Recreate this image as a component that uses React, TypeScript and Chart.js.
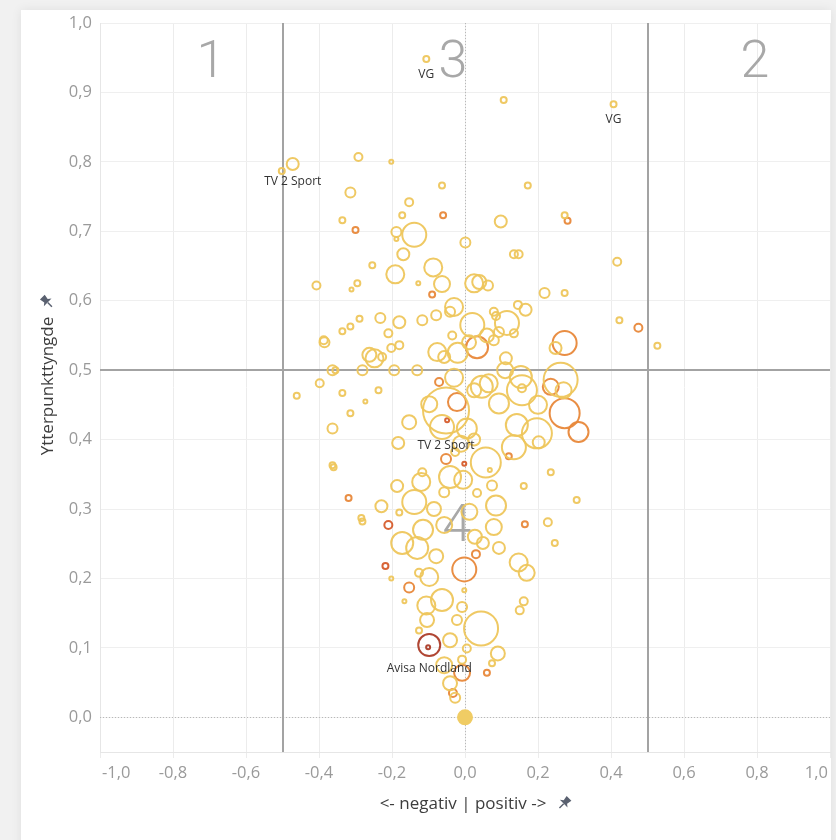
import React, { useEffect, useRef } from "react";
import { Chart, registerables } from "chart.js";

Chart.register(...registerables);

const xTicks = [-1, -0.8, -0.6, -0.4, -0.2, 0, 0.2, 0.4, 0.6, 0.8, 1];
const yTicks = [0, 0.1, 0.2, 0.3, 0.4, 0.5, 0.6, 0.7, 0.8, 0.9, 1];

const xTitle = "<- negativ | positiv ->";
const yTitle = "Ytterpunkttyngde";

// sentiment (x), extremity weight (y), reach (bubble area), tone group
const pointX = [
  -0.502, -0.472, -0.292, -0.202, -0.314, -0.153, -0.172, -0.336, -0.3, -0.188,
  -0.188, -0.139, -0.169, -0.254, -0.191, -0.407, -0.295, -0.311, -0.128, -0.106,
  0.106, 0.407, -0.063, 0.172, -0.06, 0.098, 0.273, 0.281, 0.001, 0.134,
  0.147, 0.417, -0.087, -0.063, -0.09, 0.025, 0.039, 0.063, 0.218, 0.273,
  0.423, 0.475, 0.527, -0.03, -0.079, -0.041, -0.117, -0.18, -0.232, -0.289,
  -0.314, -0.336, -0.21, -0.035, -0.387, 0.145, 0.166, 0.079, 0.085, 0.115,
  0.093, 0.134, 0.273, 0.248, 0.033, 0.011, 0.112, 0.079, 0.262, 0.235,
  0.27, 0.156, 0.153, 0.156, 0.046, 0.093, 0.273, 0.311, 0.142, 0.197,
  0.202, 0.134, 0.12, -0.002, 0.235, 0.161, 0.074, 0.033, 0.068, 0.057,
  0.306, 0.085, 0.164, 0.227, 0.079, 0.246, 0.147, 0.169, 0.161, 0.15,
  0.044, 0.09, 0.074, 0.06, -0.385, -0.363, -0.355, -0.281, -0.248, -0.262,
  -0.227, -0.194, -0.131, -0.202, -0.18, -0.398, -0.461, -0.336, -0.273, -0.237,
  -0.314, -0.363, -0.153, -0.183, -0.363, -0.36, -0.186, -0.117, -0.139, -0.12,
  -0.229, -0.319, -0.284, -0.281, -0.21, -0.18, -0.071, -0.052, -0.022, -0.063,
  -0.052, -0.049, -0.218, -0.202, -0.153, -0.166, -0.172, -0.131, -0.126, -0.098,
  -0.079, -0.106, -0.063, -0.104, -0.126, -0.098, -0.101, -0.041, -0.008, -0.057,
  -0.041, -0.033, -0.027, -0.002, 0.03, -0.002, -0.008, 0.049, 0.093, -0.008,
  -0.076, -0.057, -0.03, -0.027, -0.041, -0.005, -0.057, -0.057, 0.027, 0.005,
  -0.022, -0.098, 0.005, -0.011, 0.025, 0.065, 0.025, 0,
  -0.115, -0.085, 0.012, 0.06, 0.2, 0.02, -0.02, 0.11,
];
const pointY = [
  0.787, 0.797, 0.807, 0.8, 0.756, 0.742, 0.723, 0.716, 0.702, 0.699,
  0.689, 0.695, 0.667, 0.651, 0.638, 0.622, 0.625, 0.616, 0.625, 0.948,
  0.889, 0.883, 0.766, 0.766, 0.723, 0.714, 0.723, 0.715, 0.684, 0.667,
  0.667, 0.656, 0.648, 0.624, 0.609, 0.625, 0.627, 0.622, 0.611, 0.611,
  0.572, 0.561, 0.535, 0.591, 0.579, 0.584, 0.572, 0.569, 0.575, 0.574,
  0.563, 0.556, 0.553, 0.55, 0.543, 0.594, 0.587, 0.584, 0.578, 0.568,
  0.555, 0.553, 0.539, 0.532, 0.533, 0.54, 0.517, 0.543, 0.486, 0.476,
  0.471, 0.471, 0.49, 0.474, 0.476, 0.452, 0.438, 0.411, 0.421, 0.409,
  0.396, 0.389, 0.376, 0.365, 0.353, 0.333, 0.334, 0.323, 0.356, 0.367,
  0.313, 0.305, 0.278, 0.281, 0.274, 0.251, 0.223, 0.208, 0.167, 0.154,
  0.128, 0.092, 0.078, 0.064, 0.54, 0.5, 0.5, 0.5, 0.517, 0.522,
  0.519, 0.5, 0.5, 0.532, 0.536, 0.481, 0.463, 0.467, 0.455, 0.471,
  0.438, 0.416, 0.425, 0.395, 0.363, 0.36, 0.333, 0.353, 0.31, 0.339,
  0.304, 0.316, 0.287, 0.282, 0.277, 0.295, 0.483, 0.442, 0.454, 0.418,
  0.372, 0.428, 0.218, 0.2, 0.187, 0.167, 0.251, 0.244, 0.208, 0.202,
  0.232, 0.161, 0.169, 0.14, 0.125, 0.104, 0.101, 0.111, 0.064, 0.075,
  0.049, 0.035, 0.028, 0.213, 0.235, 0.183, 0.159, 0.251, 0.244, 0.083,
  0.526, 0.519, 0.489, 0.382, 0.346, 0.342, 0.324, 0.277, 0.26, 0.099,
  0.14, 0.451, 0.416, 0.394, 0.4, 0.481, 0.471, 0,
  0.27, 0.3, 0.296, 0.55, 0.45, 0.565, 0.525, 0.5,
];
const pointReach = [
  16, 49, 25, 9, 36, 25, 16, 16, 16, 36,
  9, 169, 49, 16, 100, 25, 16, 9, 9, 16,
  16, 16, 16, 16, 16, 49, 16, 16, 36, 25,
  25, 25, 100, 81, 16, 100, 64, 36, 36, 16,
  16, 25, 16, 100, 36, 36, 36, 49, 36, 16,
  16, 16, 25, 25, 25, 25, 49, 25, 25, 169,
  36, 25, 169, 49, 144, 64, 49, 36, 324, 81,
  81, 256, 144, 25, 144, 121, 256, 121, 144, 256,
  49, 169, 16, 9, 16, 16, 36, 25, 9, 256,
  16, 121, 16, 25, 81, 16, 100, 81, 25, 25,
  324, 64, 16, 16, 36, 36, 16, 36, 100, 64,
  25, 36, 36, 25, 25, 25, 16, 16, 9, 16,
  16, 36, 64, 49, 16, 16, 49, 25, 169, 100,
  49, 16, 16, 16, 25, 16, 25, 576, 100, 169,
  36, 9, 16, 9, 36, 9, 144, 144, 25, 100,
  64, 100, 144, 64, 16, 144, 9, 64, 81, 81,
  64, 25, 36, 169, 25, 9, 36, 49, 49, 25,
  100, 49, 100, 25, 144, 100, 36, 81, 64, 25,
  36, 81, 121, 81, 49, 100, 64, 64,
  121, 64, 81, 64, 100, 169, 121, 81,
];
// 0 = neutral, 2 = elevated, 3 = high, 4 = highest, 5 = aggregated
const pointTone = [
  0, 0, 0, 0, 0, 0, 0, 0, 2, 0,
  0, 0, 0, 0, 0, 0, 0, 0, 0, 0,
  0, 0, 0, 0, 2, 0, 0, 2, 0, 0,
  0, 0, 0, 0, 2, 0, 0, 0, 0, 0,
  0, 2, 0, 0, 0, 0, 0, 0, 0, 0,
  0, 0, 0, 0, 0, 0, 0, 0, 0, 0,
  0, 0, 2, 0, 2, 0, 0, 0, 0, 2,
  0, 0, 0, 0, 0, 0, 2, 2, 0, 0,
  0, 0, 2, 3, 0, 0, 0, 0, 0, 0,
  0, 0, 2, 0, 0, 0, 0, 0, 0, 0,
  0, 0, 0, 2, 0, 0, 0, 0, 0, 0,
  0, 0, 0, 0, 0, 0, 0, 0, 0, 0,
  0, 0, 0, 0, 0, 0, 0, 0, 0, 0,
  0, 2, 0, 0, 3, 0, 2, 0, 2, 0,
  2, 3, 3, 0, 2, 0, 0, 0, 0, 0,
  0, 0, 0, 0, 0, 4, 4, 0, 2, 0,
  0, 2, 0, 2, 2, 0, 0, 0, 0, 0,
  0, 0, 0, 0, 0, 0, 0, 0, 0, 0,
  0, 0, 0, 0, 0, 0, 0, 5,
  0, 0, 0, 0, 0, 0, 0, 0,
];

const labelNames = ["VG", "VG", "TV 2 Sport", "TV 2 Sport", "Avisa Nordland"];
const labelPoints = [19, 21, 1, 137, 155];

const quadrantNames = ["1", "2", "3", "4"];
const quadrantX = [-0.696, 0.794, -0.033, -0.022];
const quadrantY = [0.942, 0.942, 0.942, 0.274];

const referenceX = [-0.5, 0.5];
const referenceY = [0.5];

const toneStroke: Record<number, string> = {
  0: "rgba(238,198,92,0.95)",
  2: "rgba(232,136,58,0.95)",
  3: "rgba(214,92,44,0.95)",
  4: "rgba(172,60,40,0.95)",
  5: "rgba(240,204,100,1)",
};

const radiusOf = (v: number) => Math.max(1.8, Math.sqrt(v) - 1);
const fmt = (v: number) => (Math.abs(v) < 1e-9 ? 0 : v).toFixed(1).replace(".", ",");

function drawPin(ctx: CanvasRenderingContext2D, cx: number, cy: number, s: number, angle: number) {
  ctx.save();
  ctx.translate(cx, cy);
  ctx.rotate(angle);
  ctx.fillStyle = "#5a6170";
  ctx.beginPath();
  ctx.moveTo(-s * 0.28, -s * 0.55);
  ctx.lineTo(s * 0.28, -s * 0.55);
  ctx.lineTo(s * 0.2, -s * 0.12);
  ctx.lineTo(s * 0.45, s * 0.08);
  ctx.lineTo(-s * 0.45, s * 0.08);
  ctx.lineTo(-s * 0.2, -s * 0.12);
  ctx.closePath();
  ctx.fill();
  ctx.fillRect(-s * 0.06, s * 0.08, s * 0.12, s * 0.5);
  ctx.restore();
}

const overlayPlugin = {
  id: "overlay",
  beforeDatasetsDraw(chart: any) {
    const { ctx, chartArea: a, scales } = chart;
    const xs = scales.x;
    const ys = scales.y;
    ctx.save();
    ctx.strokeStyle = "#b8b8b8";
    ctx.lineWidth = 1;
    ctx.setLineDash([1, 2]);
    const x0 = Math.round(xs.getPixelForValue(0)) + 0.5;
    const y0 = Math.round(ys.getPixelForValue(0)) + 0.5;
    ctx.beginPath();
    ctx.moveTo(x0, a.top);
    ctx.lineTo(x0, a.bottom);
    ctx.moveTo(a.left, y0);
    ctx.lineTo(a.right, y0);
    ctx.stroke();
    ctx.setLineDash([]);
    ctx.strokeStyle = "#a3a3a3";
    ctx.lineWidth = 2;
    ctx.beginPath();
    referenceX.forEach((v) => {
      const px = Math.round(xs.getPixelForValue(v));
      ctx.moveTo(px, a.top);
      ctx.lineTo(px, a.bottom);
    });
    referenceY.forEach((v) => {
      const py = Math.round(ys.getPixelForValue(v));
      ctx.moveTo(a.left, py);
      ctx.lineTo(a.right, py);
    });
    ctx.stroke();
    ctx.fillStyle = "#a8a8a8";
    ctx.font = "300 52px Roboto, 'Open Sans', sans-serif";
    ctx.textAlign = "center";
    ctx.textBaseline = "middle";
    quadrantNames.forEach((q, i) => {
      ctx.fillText(q, xs.getPixelForValue(quadrantX[i]), ys.getPixelForValue(quadrantY[i]) + 1);
    });
    ctx.fillStyle = "#9a9a9a";
    ctx.font = "16.5px 'Open Sans', sans-serif";
    xTicks.forEach((v, i) => {
      const px = xs.getPixelForValue(v);
      if (i === 0) {
        ctx.textAlign = "left";
        ctx.fillText(fmt(v), px + 2, 773);
      } else if (i === xTicks.length - 1) {
        ctx.textAlign = "right";
        ctx.fillText(fmt(v), px - 2, 773);
      } else {
        ctx.textAlign = "center";
        ctx.fillText(fmt(v), px, 773);
      }
    });
    ctx.restore();
  },
  afterDatasetsDraw(chart: any) {
    const { ctx, scales } = chart;
    const xs = scales.x;
    const ys = scales.y;
    ctx.save();
    ctx.fillStyle = "#333";
    ctx.font = "12px 'Open Sans', sans-serif";
    ctx.textAlign = "center";
    ctx.textBaseline = "middle";
    labelPoints.forEach((idx, i) => {
      const px = xs.getPixelForValue(pointX[idx]);
      const py = ys.getPixelForValue(pointY[idx]);
      const r = radiusOf(pointReach[idx]);
      ctx.fillText(labelNames[i], px, py + r + 12);
    });
    ctx.fillStyle = "#3d3d3d";
    ctx.font = "17px 'Open Sans', sans-serif";
    const xt = 463;
    ctx.fillText(xTitle, xt, 804);
    const w = ctx.measureText(xTitle).width;
    drawPin(ctx, xt + w / 2 + 18, 803, 12, Math.PI / 4);
    ctx.save();
    ctx.translate(48, 386);
    ctx.rotate(-Math.PI / 2);
    ctx.fillText(yTitle, 0, 0);
    const wy = ctx.measureText(yTitle).width;
    ctx.restore();
    drawPin(ctx, 47, 386 - wy / 2 - 15, 12, -Math.PI / 4);
    ctx.restore();
  },
};

export default function App() {
  const ref = useRef<HTMLCanvasElement | null>(null);
  useEffect(() => {
    if (!ref.current) return;
    const tones = [0, 2, 3, 4, 5];
    const datasets = tones.map((t) => {
      const data: any[] = [];
      pointX.forEach((x, i) => {
        if (pointTone[i] === t) data.push({ x, y: pointY[i], r: radiusOf(pointReach[i]) });
      });
      return {
        label: "tone" + t,
        data,
        borderColor: toneStroke[t],
        backgroundColor: t === 5 ? toneStroke[t] : "rgba(255,255,255,0)",
        borderWidth: 2,
      };
    });
    const chart = new Chart(ref.current, {
      type: "bubble",
      data: { datasets },
      plugins: [overlayPlugin],
      options: {
        responsive: false,
        animation: false,
        layout: { autoPadding: false, padding: { left: 21, right: 6, top: 23, bottom: 18 } },
        plugins: { legend: { display: false }, tooltip: { enabled: false } },
        scales: {
          x: {
            type: "linear",
            min: -1,
            max: 1,
            afterBuildTicks: (s: any) => {
              s.ticks = xTicks.map((v) => ({ value: v }));
            },
            afterFit: (s: any) => {
              s.height = 70;
            },
            grid: { color: "#ececec", tickLength: 6, lineWidth: 1 },
            border: { color: "#e6e6e6" },
            ticks: { display: false },
          },
          y: {
            type: "linear",
            min: -0.05,
            max: 1,
            afterBuildTicks: (s: any) => {
              s.ticks = yTicks.map((v) => ({ value: v }));
            },
            afterFit: (s: any) => {
              s.width = 79;
            },
            grid: { color: "#efefef", drawTicks: false, lineWidth: 1 },
            border: { color: "#e6e6e6" },
            ticks: {
              color: "#9a9a9a",
              font: { size: 16.5, family: "'Open Sans', sans-serif" },
              padding: 8,
              callback: (v: any) => fmt(Number(v)),
            },
          },
        },
      } as any,
    });
    return () => chart.destroy();
  }, []);

  return (
    <div style={{ position: "fixed", left: 0, top: 0, width: 836, height: 840, background: "#f1f1f1", overflow: "hidden" }}>
      <div
        style={{
          position: "absolute",
          left: 21,
          top: 10,
          width: 810,
          height: 840,
          background: "#ffffff",
          boxShadow: "0 0 10px rgba(0,0,0,0.08)",
        }}
      />
      <canvas ref={ref} width={836} height={840} style={{ position: "absolute", left: 0, top: 0 }} />
    </div>
  );
}
